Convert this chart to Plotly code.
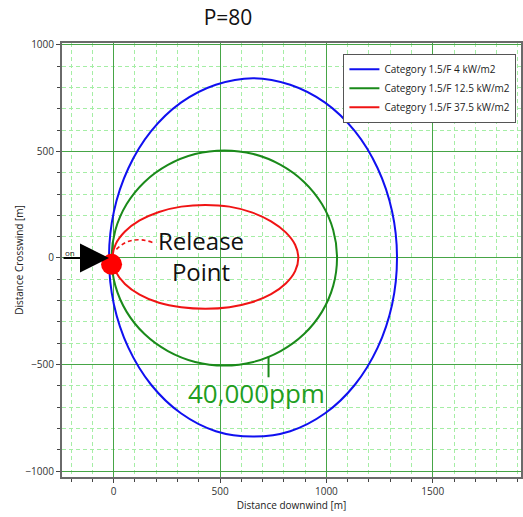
import plotly.graph_objects as go

# ---- data ----
series_names = ["Category 1.5/F 4 kW/m2", "Category 1.5/F 12.5 kW/m2", "Category 1.5/F 37.5 kW/m2"]
series_colors = ["#1010f0", "#1a8a1a", "#f01414"]

blue_x = [-22, 1, 69, 176, 316, 480, 655, 830, 994, 1134, 1241, 1309, 1332, 1309, 1241, 1134, 994, 830, 655, 480, 316, 176, 69, 1, -22]
blue_y = [0, 218, 421, 595, 729, 813, 844, 813, 729, 595, 421, 218, 0, -218, -421, -595, -729, -813, -838, -813, -729, -595, -421, -218, 0]

green_x = [-10, 8, 61, 145, 255, 383, 520, 657, 785, 895, 979, 1032, 1050, 1032, 979, 895, 785, 657, 520, 383, 255, 145, 61, 8, -10]
green_y = [0, 131, 253, 357, 437, 488, 505, 488, 437, 357, 253, 131, 0, -131, -253, -357, -437, -488, -505, -488, -437, -357, -253, -131, 0]

red_x = [-6, 9, 53, 122, 213, 318, 431, 544, 649, 740, 809, 853, 868, 853, 809, 740, 649, 544, 431, 318, 213, 122, 53, 9, -6]
red_y = [0, 64, 124, 176, 216, 241, 249, 241, 214, 172, 120, 62, 0, -62, -120, -170, -208, -231, -238, -231, -210, -172, -122, -63, 0]

release_x = [-10]
release_y = [-30]

x_tick_vals = [0, 500, 1000, 1500]
y_tick_vals = [-1000, -500, 0, 500, 1000]

contours = [(blue_x, blue_y), (green_x, green_y), (red_x, red_y)]

fig = go.Figure()
for (xs, ys), name, col in zip(contours, series_names, series_colors):
    fig.add_trace(go.Scatter(x=xs, y=ys, mode="lines", name=name,
                             line=dict(color=col, width=2, shape="spline", smoothing=1.0)))

fig.add_trace(go.Scatter(x=release_x, y=release_y, mode="markers", showlegend=False,
                         marker=dict(color="#ff0000", size=21, line=dict(width=0)),
                         hoverinfo="skip"))

major_grid = "rgb(70,165,70)"
minor_grid = "rgb(165,238,165)"
font_fam = "Open Sans, Noto Sans, sans-serif"

axis_common = dict(
    showgrid=True, gridcolor=major_grid, gridwidth=1.3,
    zeroline=False,
    ticks="outside", ticklen=4, tickcolor="#444", tickwidth=1,
    showline=True, linecolor="#6a6a6a", linewidth=2, mirror=True,
    tickfont=dict(size=10, color="#333", family=font_fam),
    minor=dict(dtick=100, tick0=0, showgrid=True, gridcolor=minor_grid,
               griddash="4px,3px", gridwidth=1, ticks="outside", ticklen=3,
               tickcolor="#444"),
)

W, H = 523, 517

fig.update_layout(
    width=W, height=H,
    margin=dict(l=62, r=0, t=43, b=40),
    paper_bgcolor="white", plot_bgcolor="white",
    font=dict(family=font_fam, color="#222"),
    title=dict(text="P=80", x=228 / W, xanchor="center", y=1 - 18 / H, yanchor="middle",
               font=dict(size=21, color="#111", family=font_fam)),
    xaxis=dict(range=[-243, 1915], tickvals=x_tick_vals,
               title=dict(text="Distance downwind [m]", font=dict(size=10, color="#222"), standoff=5),
               **axis_common),
    yaxis=dict(range=[-1028, 1009], tickvals=y_tick_vals,
               title=dict(text="Distance Crosswind [m]", font=dict(size=10, color="#222"), standoff=0),
               **axis_common),
    legend=dict(x=0.99, y=0.975, xanchor="right", yanchor="top",
                bgcolor="white", bordercolor="#555", borderwidth=1,
                font=dict(size=10, color="#222", family=font_fam),
                tracegroupgap=0, itemwidth=30),
    showlegend=True,
)

# wind arrow into the release point
fig.add_annotation(x=-22, y=0, ax=-243, ay=0, xref="x", yref="y", axref="x", ayref="y",
                   showarrow=True, arrowhead=2, arrowwidth=2, arrowsize=2.9,
                   arrowcolor="black", text="")
fig.add_annotation(x=-205, y=28, xref="x", yref="y", text="on", showarrow=False,
                   font=dict(size=8, color="#222", family=font_fam))

# labels
fig.add_annotation(x=412, y=8, xref="x", yref="y", text="Release<br>Point", showarrow=False,
                   font=dict(size=24, color="#111", family=font_fam), align="center")
fig.add_annotation(x=672, y=-633, xref="x", yref="y", text="40,000ppm", showarrow=False,
                   font=dict(size=26, color="#1f9e1f", family=font_fam))

# dashed red pointer and green tick
fig.add_shape(type="path", xref="x", yref="y", path="M 182,73 Q 75,112 5,32",
              line=dict(color="#f01414", width=1.6, dash="4px,3px"))
fig.add_shape(type="line", xref="x", yref="y", x0=728, y0=-462, x1=728, y1=-560,
              line=dict(color="#1a8a1a", width=2))

fig.write_html("out.html", config={"displayModeBar": False},
               post_script="document.body.style.margin='0px';document.body.style.overflow='hidden';")
